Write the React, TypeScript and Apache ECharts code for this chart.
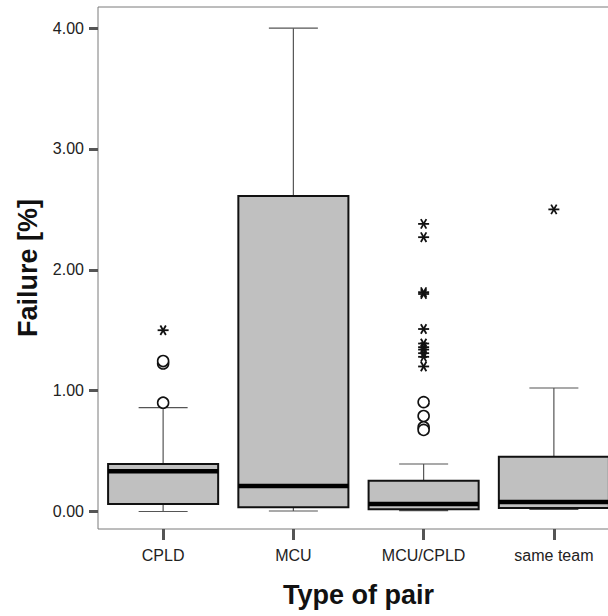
import React, { useEffect, useRef } from "react";
import * as echarts from "echarts";

const categories = ["CPLD", "MCU", "MCU/CPLD", "same team"];
const boxMin = [0.0, 0.004, 0.007, 0.018];
const boxQ1 = [0.062, 0.035, 0.018, 0.029];
const boxMedian = [0.333, 0.211, 0.062, 0.079];
const boxQ3 = [0.393, 2.61, 0.255, 0.453];
const boxMax = [0.86, 4.0, 0.393, 1.022];

// [category index, value]
const outlierCircles = [
  [0, 0.9],
  [0, 1.225],
  [0, 1.245],
  [2, 0.905],
  [2, 0.79],
  [2, 0.697],
  [2, 0.675],
];
const extremeStars = [
  [0, 1.5],
  [2, 2.38],
  [2, 2.27],
  [2, 1.815],
  [2, 1.8],
  [2, 1.51],
  [2, 1.39],
  [2, 1.36],
  [2, 1.34],
  [2, 1.31],
  [2, 1.28],
  [2, 1.2],
  [3, 2.5],
];

const yTicks = [0, 1, 2, 3, 4];

export default function App() {
  const ref = useRef<HTMLDivElement>(null);

  useEffect(() => {
    if (!ref.current) return;
    const chart = echarts.init(ref.current, null, { renderer: "svg" });

    const boxData = categories.map((_, i) => [
      i,
      boxMin[i],
      boxQ1[i],
      boxMedian[i],
      boxQ3[i],
      boxMax[i],
    ]);
    const outlierData = [
      ...outlierCircles.map((d) => [d[0], d[1], 0]),
      ...extremeStars.map((d) => [d[0], d[1], 1]),
    ];

    const whiskerColor = "#555";
    const font = "Liberation Sans, Arial, sans-serif";

    const option: any = {
      animation: false,
      backgroundColor: "#ffffff",
      textStyle: { fontFamily: font },
      grid: {
        show: true,
        left: 98,
        top: 7,
        width: 521,
        height: 522,
        borderColor: "#7a7a7a",
        borderWidth: 1,
        backgroundColor: "#ffffff",
        containLabel: false,
        outerBoundsMode: "none",
      },
      xAxis: {
        type: "category",
        data: categories,
        boundaryGap: true,
        axisLine: { show: false, onZero: false },
        axisTick: {
          show: true,
          alignWithLabel: true,
          length: 11,
          lineStyle: { color: "#555", width: 3 },
        },
        axisLabel: {
          fontSize: 16,
          color: "#222",
          margin: 18,
          fontFamily: font,
        },
        splitLine: { show: false },
        name: "Type of pair",
        nameLocation: "middle",
        nameGap: 52,
        nameTextStyle: {
          fontSize: 27,
          fontWeight: "bold",
          color: "#111",
          fontFamily: font,
        },
      },
      yAxis: {
        type: "value",
        min: -0.145,
        max: 4.175,
        axisLine: { show: false, onZero: false },
        splitLine: { show: false },
        axisTick: {
          show: true,
          customValues: yTicks,
          length: 9,
          lineStyle: { color: "#555", width: 3 },
        },
        axisLabel: {
          customValues: yTicks,
          formatter: (v: number) => v.toFixed(2),
          fontSize: 16,
          color: "#222",
          margin: 14,
          fontFamily: font,
        },
        name: "Failure [%]",
        nameLocation: "middle",
        nameGap: 56,
        nameTextStyle: {
          fontSize: 27,
          fontWeight: "bold",
          color: "#111",
          fontFamily: font,
        },
      },
      series: [
        {
          type: "custom",
          name: "box",
          data: boxData,
          encode: { x: 0, y: [1, 2, 3, 4, 5] },
          renderItem: (params: any, api: any) => {
            const cat = api.value(0);
            const band = api.size([1, 0])[0];
            const boxW = band * 0.845;
            const capW = 49;
            const pMin = api.coord([cat, api.value(1)]);
            const pQ1 = api.coord([cat, api.value(2)]);
            const pMed = api.coord([cat, api.value(3)]);
            const pQ3 = api.coord([cat, api.value(4)]);
            const pMax = api.coord([cat, api.value(5)]);
            const cx = pMin[0];
            const wStyle = { stroke: whiskerColor, lineWidth: 1.2 };
            return {
              type: "group",
              children: [
                {
                  type: "line",
                  shape: { x1: cx, y1: pMax[1], x2: cx, y2: pQ3[1] },
                  style: wStyle,
                },
                {
                  type: "line",
                  shape: { x1: cx, y1: pQ1[1], x2: cx, y2: pMin[1] },
                  style: wStyle,
                },
                {
                  type: "line",
                  shape: { x1: cx - capW / 2, y1: pMax[1], x2: cx + capW / 2, y2: pMax[1] },
                  style: wStyle,
                },
                {
                  type: "line",
                  shape: { x1: cx - capW / 2, y1: pMin[1], x2: cx + capW / 2, y2: pMin[1] },
                  style: wStyle,
                },
                {
                  type: "rect",
                  shape: {
                    x: cx - boxW / 2,
                    y: pQ3[1],
                    width: boxW,
                    height: pQ1[1] - pQ3[1],
                  },
                  style: { fill: "#c0c0c0", stroke: "#111", lineWidth: 2 },
                },
                {
                  type: "line",
                  shape: { x1: cx - boxW / 2, y1: pMed[1], x2: cx + boxW / 2, y2: pMed[1] },
                  style: { stroke: "#000", lineWidth: 4.5 },
                },
              ],
            };
          },
          z: 2,
        },
        {
          type: "custom",
          name: "outliers",
          data: outlierData,
          encode: { x: 0, y: 1 },
          renderItem: (params: any, api: any) => {
            const p = api.coord([api.value(0), api.value(1)]);
            const kind = api.value(2);
            if (kind === 0) {
              return {
                type: "circle",
                shape: { cx: p[0], cy: p[1], r: 5.5 },
                style: { fill: "#fff", stroke: "#111", lineWidth: 1.6 },
              };
            }
            const r = 5.5;
            const dx = r * 0.5;
            const dy = r * 0.866;
            const st = { stroke: "#111", lineWidth: 1.8 };
            return {
              type: "group",
              children: [
                { type: "line", shape: { x1: p[0] - r, y1: p[1], x2: p[0] + r, y2: p[1] }, style: st },
                { type: "line", shape: { x1: p[0] - dx, y1: p[1] - dy, x2: p[0] + dx, y2: p[1] + dy }, style: st },
                { type: "line", shape: { x1: p[0] + dx, y1: p[1] - dy, x2: p[0] - dx, y2: p[1] + dy }, style: st },
              ],
            };
          },
          z: 3,
        },
      ],
    };

    chart.setOption(option);
    return () => chart.dispose();
  }, []);

  return (
    <div
      ref={ref}
      style={{ position: "fixed", left: 0, top: 0, width: 608, height: 616 }}
    />
  );
}
